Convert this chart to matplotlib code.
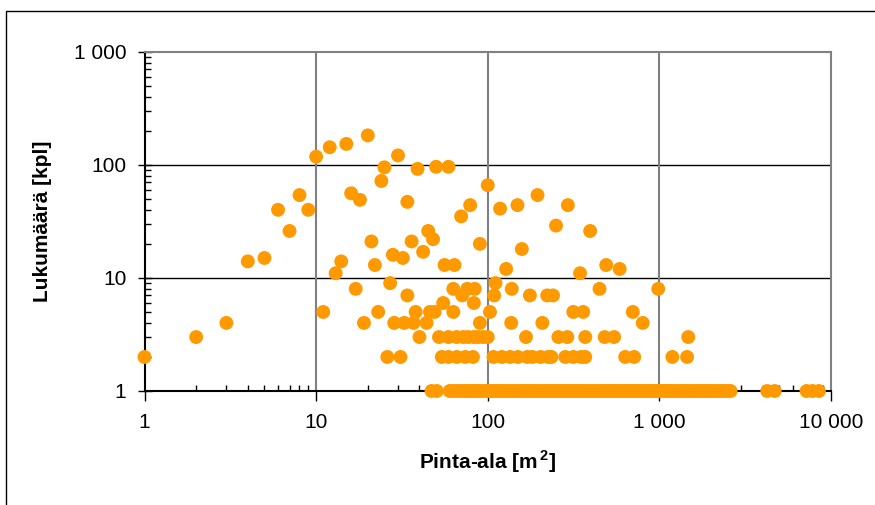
import numpy as np
import matplotlib.pyplot as plt
from matplotlib.patches import Rectangle
from matplotlib.ticker import FixedLocator, NullFormatter

plt.rcParams['font.family'] = ['Liberation Sans', 'DejaVu Sans']
plt.rcParams['mathtext.fontset'] = 'custom'
plt.rcParams['mathtext.rm'] = 'Liberation Sans:bold'
plt.rcParams['mathtext.bf'] = 'Liberation Sans:bold'

# area [m2] of each point, grouped by count [kpl]
area_1 = [47, 50.5, 60, 63, 66, 69, 72, 75, 78, 81, 84, 87, 90, 94, 98, 102,
          106, 110, 114, 118, 123, 128, 133, 138, 143, 149, 155, 161, 167, 173,
          180, 187, 194, 201, 209, 217, 225, 234, 243, 252, 262, 272, 282, 293,
          304, 316, 328, 340, 353, 366, 380, 395, 410, 426, 442, 459, 476, 494,
          513, 532, 552, 573, 595, 618, 641, 665, 690, 716, 743, 771, 800, 830,
          862, 895, 929, 964, 1000, 1040, 1080, 1120, 1160, 1200, 1250, 1300,
          1350, 1400, 1450, 1510, 1570, 1630, 1690, 1750, 1820, 1890, 1960,
          2040, 2120, 2200, 2290, 2400, 2500, 2600, 4250, 4700, 7200, 7800, 8500]
area_2 = [1, 26, 31, 54, 59, 66, 74, 82, 108, 121, 135, 150, 170, 182, 203,
          225, 235, 283, 315, 350, 370, 632, 713, 1190, 1450]
area_3 = [2, 40, 52, 59, 66, 72, 77, 83, 88, 94, 100, 167, 258, 291, 370, 480,
          545, 1473]
area_4 = [3, 19, 28.5, 32.6, 37, 44, 90, 137, 208, 800]
area_5 = [11, 23, 38, 46, 49, 63, 103, 315, 360, 700]
area_6 = [55, 83]
area_7 = [34, 71, 109, 176, 222, 240]
area_8 = [17, 63, 76, 84, 138, 448, 985]
area_9 = [27, 111]

# scattered points with larger counts
big_area = [4, 5, 6, 7, 8, 9, 10, 12, 13, 14, 15, 16, 18, 20, 21, 22, 24, 25,
            28, 30, 32, 34, 36, 39, 42, 45, 48, 50, 56, 59, 64, 70, 79, 90, 100,
            118, 128, 149, 158, 195, 250, 293, 345, 395, 490, 587]
big_count = [14, 15, 40, 26, 54, 40, 118, 143, 11, 14, 153, 56, 49, 182, 21, 13,
             72, 95, 16, 121, 15, 47, 21, 92, 17, 26, 22, 96, 13, 96, 13, 35, 44,
             20, 66, 41, 12, 44, 18, 54, 29, 44, 11, 26, 13, 12]

rows = [area_1, area_2, area_3, area_4, area_5, area_6, area_7, area_8, area_9]
area = []
count = []
for k, row in enumerate(rows):
    area += row
    count += [k + 1] * len(row)
area += big_area
count += big_count

fig = plt.figure(figsize=(8.75, 5.05), dpi=100)
ax = fig.add_axes([144.5 / 875, 1 - 391 / 505, (831 - 144.5) / 875, (391 - 51.7) / 505])

ax.scatter(area, count, s=100, color='#ff9900', edgecolors='none', zorder=3, clip_on=False)

ax.set_xscale('log')
ax.set_yscale('log')
ax.set_xlim(1, 10000)
ax.set_ylim(1, 1000)

ax.set_xticks([1, 10, 100, 1000, 10000])
ax.set_xticklabels(['1', '10', '100', '1 000', '10 000'])
ax.set_yticks([1, 10, 100, 1000])
ax.set_yticklabels(['1', '10', '100', '1 000'])
minor = [m * 10 ** e for e in range(4) for m in range(2, 10)]
ax.xaxis.set_minor_locator(FixedLocator(minor))
ax.yaxis.set_minor_locator(FixedLocator([m for m in minor if m < 1000]))
ax.xaxis.set_minor_formatter(NullFormatter())
ax.yaxis.set_minor_formatter(NullFormatter())

ax.tick_params(axis='x', which='major', direction='out', length=7, width=1, labelsize=15, pad=9)
ax.tick_params(axis='y', which='major', direction='inout', length=10, width=1, labelsize=15, pad=8)
ax.tick_params(which='minor', direction='in', length=4, width=1)

for v in [10, 100]:
    ax.axhline(v, color='black', lw=1, zorder=1)
for v in [10, 100, 1000]:
    ax.axvline(v, color='#808080', lw=1.5, zorder=1)

ax.spines['left'].set_color('black')
ax.spines['bottom'].set_color('black')
ax.spines['left'].set_linewidth(1.5)
ax.spines['bottom'].set_linewidth(1.5)
ax.spines['top'].set_color('#808080')
ax.spines['right'].set_color('#808080')
ax.spines['top'].set_linewidth(1.5)
ax.spines['right'].set_linewidth(1.5)

ax.set_xlabel('Pinta-ala [m$^{\\,2}$]', fontsize=15, fontweight='bold', labelpad=12)
ax.set_ylabel('Lukumäärä [kpl]', fontsize=15, fontweight='bold', labelpad=16)

fig.patches.append(Rectangle((6 / 875, -0.1), 1.2, 1.1 - 11 / 505, transform=fig.transFigure,
                             fill=False, edgecolor='black', lw=1))

plt.savefig('out.png')
